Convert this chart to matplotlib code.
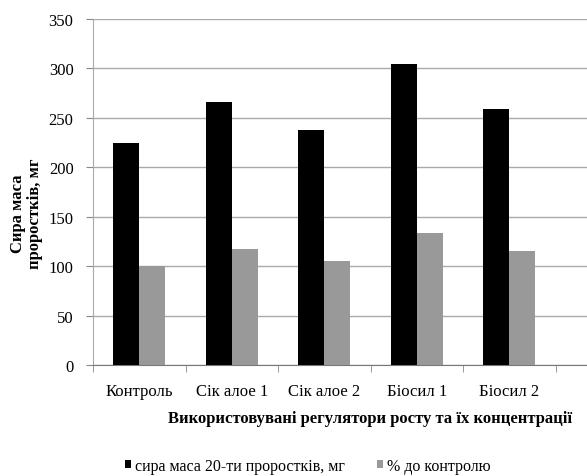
import matplotlib.pyplot as plt
import numpy as np

plt.rcParams['font.family'] = ['Liberation Serif', 'DejaVu Serif']

# регулятори росту (остання позиція на осі порожня)
categories = ['Контроль', 'Сік алое 1', 'Сік алое 2', 'Біосил 1', 'Біосил 2', '']
mass = [225, 266, 238, 304, 259]        # сира маса 20-ти проростків, мг
percent = [100, 117, 105, 134, 115]     # % до контролю

fig = plt.figure(figsize=(5.87, 4.77), dpi=100)
# вісь ширша за полотно: шоста категорія обрізана праворуч
ax = fig.add_axes([93 / 587, 1 - 366 / 477, 555 / 587, 346 / 477])

x = np.arange(len(mass))
w = 0.28
ax.bar(x + 0.5 - w / 2, mass, w, color='black', label='сира маса 20-ти проростків, мг', zorder=3)
ax.bar(x + 0.5 + w / 2, percent, w, color='#999999', label='% до контролю', zorder=3)

ax.set_xlim(0, len(categories))
ax.set_ylim(0, 350)
ax.set_yticks(range(0, 351, 50))
ax.set_xticks(np.arange(len(categories)) + 0.5)
ax.set_xticklabels(categories, fontsize=12)
ax.set_xticks(range(0, len(categories) + 1), minor=True)
ax.tick_params(axis='x', which='major', length=0, pad=13)
ax.tick_params(axis='x', which='minor', length=5, color='#888888')
ax.tick_params(axis='y', length=5, color='#888888', labelsize=12, pad=9)

ax.grid(axis='y', color='#aaaaaa', linewidth=1, zorder=0)
for side in ['top', 'right']:
    ax.spines[side].set_visible(False)
ax.spines['left'].set_color('#aaaaaa')
ax.spines['bottom'].set_color('#777777')

ax.set_ylabel('Сира маса\nпроростків, мг', fontsize=12, fontweight='bold', linespacing=1.05)
ax.yaxis.set_label_coords(-0.09, 0.44)
ax.set_xlabel('Використовувані регулятори росту та їх концентрації', fontsize=12,
              fontweight='bold', labelpad=8)

fig.legend(loc='center', bbox_to_anchor=(308 / 587, 1 - 467 / 477), ncol=2, frameon=False,
           fontsize=11.5, handlelength=0.4, handleheight=0.4, handletextpad=0.25,
           columnspacing=2.0)

fig.savefig('out.png', dpi=100)
